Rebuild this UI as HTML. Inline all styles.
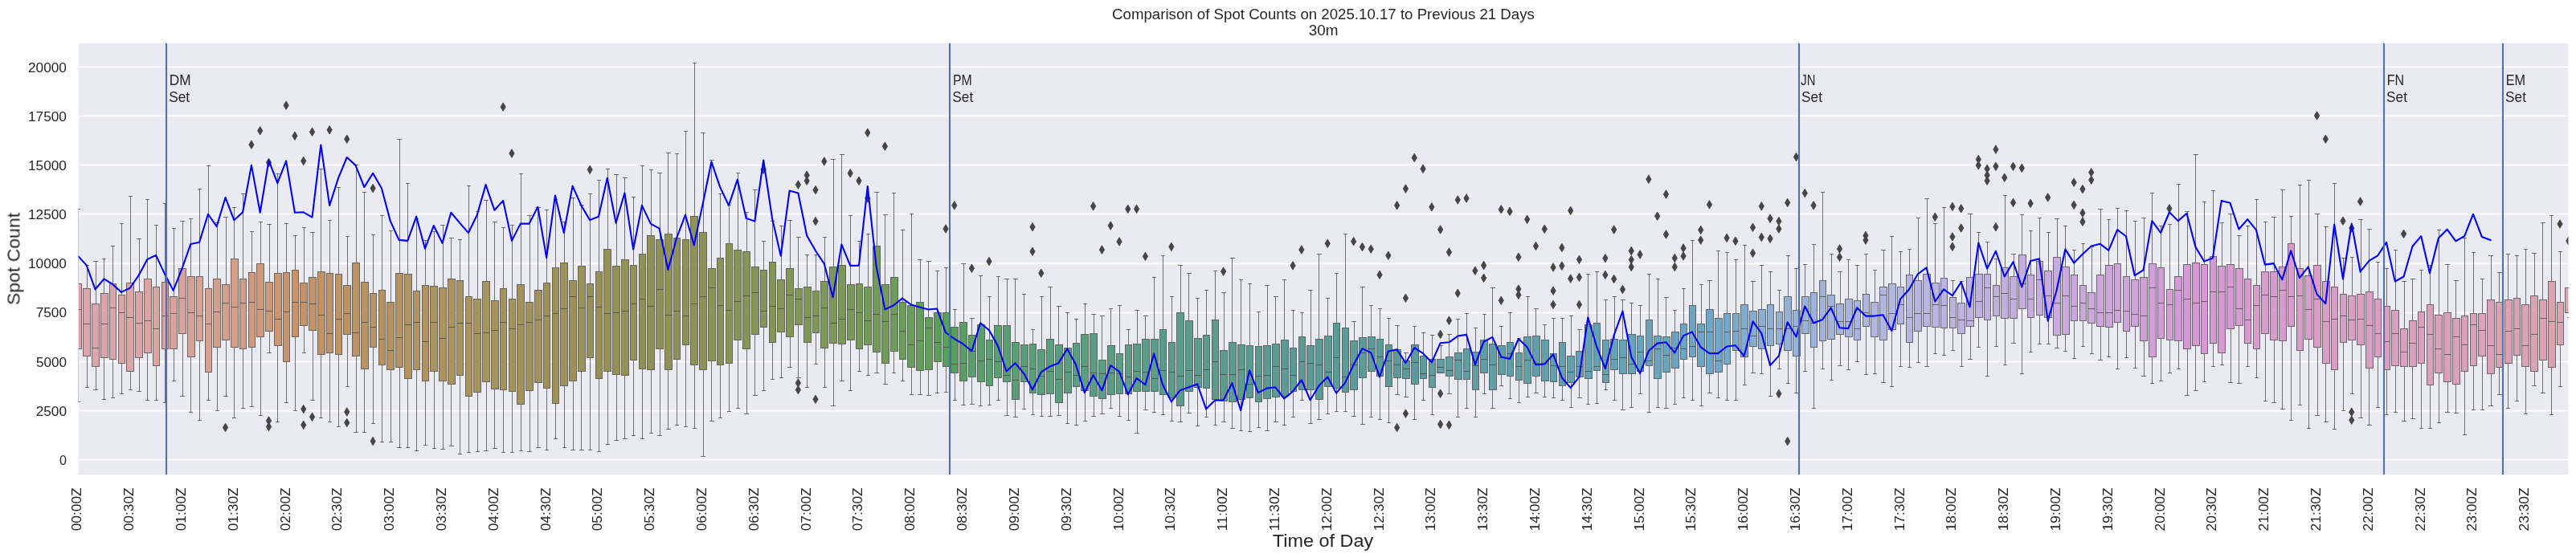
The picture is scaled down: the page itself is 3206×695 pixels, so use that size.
<!DOCTYPE html>
<html><head><meta charset="utf-8"><title>Comparison of Spot Counts</title>
<style>html,body{margin:0;padding:0;background:#fff}body{width:3206px;height:695px;overflow:hidden}svg{display:block}text{font-family:"Liberation Sans",sans-serif;fill:#262626}</style>
</head><body>
<svg width="3206" height="695" viewBox="0 0 3206 695">
<defs><clipPath id="ax"><rect x="97.7" y="53.8" width="3098.7" height="537.4"/></clipPath></defs>
<rect x="0" y="0" width="3206" height="695" fill="#ffffff"/>
<rect x="97.7" y="53.8" width="3098.7" height="537.4" fill="#eaeaf2"/>
<g stroke="#ffffff" stroke-width="1.39">
<line x1="97.7" x2="3196.4" y1="572.5" y2="572.5"/>
<line x1="97.7" x2="3196.4" y1="511.5" y2="511.5"/>
<line x1="97.7" x2="3196.4" y1="450.5" y2="450.5"/>
<line x1="97.7" x2="3196.4" y1="389.5" y2="389.5"/>
<line x1="97.7" x2="3196.4" y1="328.5" y2="328.5"/>
<line x1="97.7" x2="3196.4" y1="266.5" y2="266.5"/>
<line x1="97.7" x2="3196.4" y1="205.5" y2="205.5"/>
<line x1="97.7" x2="3196.4" y1="144.5" y2="144.5"/>
<line x1="97.7" x2="3196.4" y1="83.5" y2="83.5"/>
</g>
<g clip-path="url(#ax)">
<g stroke="#454545" stroke-opacity="0.75" stroke-width="1">
<rect x="93.5" y="353.5" width="8" height="81" fill="#dca4ad"/>
<rect x="103.5" y="359.5" width="9" height="84" fill="#dca4ac"/>
<rect x="114.5" y="378.5" width="9" height="78" fill="#dca4ab"/>
<rect x="125.5" y="365.5" width="9" height="80" fill="#dca4aa"/>
<rect x="136.5" y="353.5" width="8" height="94" fill="#dca5a8"/>
<rect x="147.5" y="367.5" width="8" height="85" fill="#dca5a7"/>
<rect x="157.5" y="352.5" width="9" height="110" fill="#dca5a6"/>
<rect x="168.5" y="363.5" width="9" height="82" fill="#dca5a5"/>
<rect x="179.5" y="347.5" width="9" height="92" fill="#dba4a3"/>
<rect x="190.5" y="357.5" width="8" height="98" fill="#dba4a1"/>
<rect x="201.5" y="351.5" width="8" height="83" fill="#daa39f"/>
<rect x="211.5" y="369.5" width="9" height="65" fill="#d9a39c"/>
<rect x="222.5" y="334.5" width="9" height="81" fill="#d9a29a"/>
<rect x="233.5" y="344.5" width="9" height="100" fill="#d8a197"/>
<rect x="244.5" y="344.5" width="8" height="80" fill="#d7a195"/>
<rect x="255.5" y="359.5" width="8" height="104" fill="#d6a092"/>
<rect x="265.5" y="347.5" width="9" height="85" fill="#d59f8f"/>
<rect x="276.5" y="354.5" width="9" height="69" fill="#d49e8c"/>
<rect x="287.5" y="322.5" width="9" height="110" fill="#d39d88"/>
<rect x="298.5" y="347.5" width="8" height="87" fill="#d29c85"/>
<rect x="309.5" y="339.5" width="8" height="93" fill="#d09b81"/>
<rect x="319.5" y="328.5" width="9" height="91" fill="#cf997c"/>
<rect x="330.5" y="351.5" width="9" height="61" fill="#cd9877"/>
<rect x="341.5" y="340.5" width="9" height="90" fill="#cb9671"/>
<rect x="352.5" y="339.5" width="8" height="111" fill="#c9946a"/>
<rect x="363.5" y="336.5" width="8" height="83" fill="#c79367"/>
<rect x="373.5" y="352.5" width="9" height="53" fill="#c59366"/>
<rect x="384.5" y="345.5" width="9" height="66" fill="#c39366"/>
<rect x="395.5" y="338.5" width="9" height="103" fill="#c19365"/>
<rect x="406.5" y="340.5" width="8" height="99" fill="#c09364"/>
<rect x="417.5" y="341.5" width="8" height="100" fill="#be9364"/>
<rect x="427.5" y="355.5" width="9" height="61" fill="#bd9363"/>
<rect x="438.5" y="327.5" width="9" height="116" fill="#bb9463"/>
<rect x="449.5" y="351.5" width="9" height="108" fill="#b99462"/>
<rect x="460.5" y="365.5" width="8" height="67" fill="#b89462"/>
<rect x="471.5" y="361.5" width="8" height="93" fill="#b79361"/>
<rect x="481.5" y="376.5" width="9" height="84" fill="#b59361"/>
<rect x="492.5" y="340.5" width="9" height="117" fill="#b49360"/>
<rect x="503.5" y="341.5" width="9" height="130" fill="#b29360"/>
<rect x="514.5" y="362.5" width="8" height="98" fill="#b1935f"/>
<rect x="525.5" y="355.5" width="8" height="119" fill="#b0935f"/>
<rect x="535.5" y="356.5" width="9" height="106" fill="#af935f"/>
<rect x="546.5" y="358.5" width="9" height="116" fill="#ad935e"/>
<rect x="557.5" y="347.5" width="9" height="131" fill="#ac935e"/>
<rect x="568.5" y="349.5" width="8" height="118" fill="#ab935d"/>
<rect x="579.5" y="369.5" width="8" height="124" fill="#aa935d"/>
<rect x="589.5" y="372.5" width="9" height="116" fill="#a8935c"/>
<rect x="600.5" y="350.5" width="9" height="125" fill="#a7935c"/>
<rect x="611.5" y="374.5" width="9" height="110" fill="#a6935c"/>
<rect x="622.5" y="359.5" width="8" height="126" fill="#a5935b"/>
<rect x="633.5" y="372.5" width="8" height="115" fill="#a4935b"/>
<rect x="643.5" y="354.5" width="9" height="149" fill="#a2925a"/>
<rect x="654.5" y="376.5" width="9" height="110" fill="#a1925a"/>
<rect x="665.5" y="361.5" width="9" height="115" fill="#a0925a"/>
<rect x="676.5" y="352.5" width="8" height="131" fill="#9f9259"/>
<rect x="687.5" y="333.5" width="8" height="169" fill="#9e9259"/>
<rect x="697.5" y="327.5" width="9" height="153" fill="#9d9258"/>
<rect x="708.5" y="349.5" width="9" height="125" fill="#9b9258"/>
<rect x="719.5" y="331.5" width="9" height="131" fill="#9a9258"/>
<rect x="730.5" y="353.5" width="8" height="92" fill="#999157"/>
<rect x="741.5" y="338.5" width="8" height="133" fill="#989157"/>
<rect x="751.5" y="310.5" width="9" height="152" fill="#979156"/>
<rect x="762.5" y="331.5" width="9" height="135" fill="#959156"/>
<rect x="773.5" y="323.5" width="9" height="144" fill="#949156"/>
<rect x="784.5" y="330.5" width="8" height="118" fill="#939155"/>
<rect x="795.5" y="316.5" width="8" height="143" fill="#929155"/>
<rect x="805.5" y="293.5" width="9" height="167" fill="#909054"/>
<rect x="816.5" y="298.5" width="9" height="136" fill="#909154"/>
<rect x="827.5" y="291.5" width="9" height="169" fill="#8f9155"/>
<rect x="838.5" y="296.5" width="8" height="151" fill="#8e9255"/>
<rect x="849.5" y="298.5" width="8" height="131" fill="#8d9255"/>
<rect x="859.5" y="269.5" width="9" height="185" fill="#8d9255"/>
<rect x="870.5" y="289.5" width="9" height="171" fill="#8c9355"/>
<rect x="881.5" y="334.5" width="9" height="115" fill="#8b9355"/>
<rect x="892.5" y="321.5" width="8" height="133" fill="#8a9355"/>
<rect x="903.5" y="303.5" width="8" height="149" fill="#899455"/>
<rect x="913.5" y="311.5" width="9" height="112" fill="#889456"/>
<rect x="924.5" y="313.5" width="9" height="121" fill="#879556"/>
<rect x="935.5" y="332.5" width="9" height="84" fill="#869556"/>
<rect x="946.5" y="336.5" width="8" height="71" fill="#859556"/>
<rect x="957.5" y="326.5" width="8" height="100" fill="#849656"/>
<rect x="967.5" y="348.5" width="9" height="65" fill="#839656"/>
<rect x="978.5" y="334.5" width="9" height="85" fill="#829756"/>
<rect x="989.5" y="359.5" width="9" height="45" fill="#819756"/>
<rect x="1000.5" y="357.5" width="9" height="69" fill="#809757"/>
<rect x="1011.5" y="362.5" width="8" height="52" fill="#7f9857"/>
<rect x="1021.5" y="350.5" width="9" height="83" fill="#7d9857"/>
<rect x="1032.5" y="332.5" width="9" height="95" fill="#7c9957"/>
<rect x="1043.5" y="330.5" width="9" height="98" fill="#7a9957"/>
<rect x="1054.5" y="354.5" width="9" height="69" fill="#799a57"/>
<rect x="1065.5" y="353.5" width="8" height="81" fill="#779a57"/>
<rect x="1075.5" y="357.5" width="9" height="72" fill="#759b58"/>
<rect x="1086.5" y="306.5" width="9" height="132" fill="#739b58"/>
<rect x="1097.5" y="354.5" width="9" height="98" fill="#719c58"/>
<rect x="1108.5" y="345.5" width="9" height="92" fill="#6f9c58"/>
<rect x="1119.5" y="376.5" width="8" height="71" fill="#6c9d58"/>
<rect x="1129.5" y="380.5" width="9" height="77" fill="#699d58"/>
<rect x="1140.5" y="376.5" width="9" height="85" fill="#659e59"/>
<rect x="1151.5" y="395.5" width="9" height="65" fill="#619e59"/>
<rect x="1162.5" y="389.5" width="9" height="61" fill="#5c9f59"/>
<rect x="1173.5" y="389.5" width="8" height="67" fill="#599f5c"/>
<rect x="1183.5" y="407.5" width="9" height="57" fill="#599f61"/>
<rect x="1194.5" y="401.5" width="9" height="73" fill="#599f65"/>
<rect x="1205.5" y="417.5" width="9" height="52" fill="#599f69"/>
<rect x="1216.5" y="404.5" width="9" height="71" fill="#599f6c"/>
<rect x="1227.5" y="423.5" width="8" height="57" fill="#599e6f"/>
<rect x="1237.5" y="405.5" width="9" height="65" fill="#5a9e71"/>
<rect x="1248.5" y="405.5" width="9" height="70" fill="#5a9e73"/>
<rect x="1259.5" y="426.5" width="9" height="71" fill="#5a9e75"/>
<rect x="1270.5" y="429.5" width="9" height="46" fill="#5a9e77"/>
<rect x="1281.5" y="428.5" width="8" height="61" fill="#5a9e79"/>
<rect x="1291.5" y="435.5" width="9" height="56" fill="#5a9e7b"/>
<rect x="1302.5" y="422.5" width="9" height="68" fill="#5a9e7c"/>
<rect x="1313.5" y="429.5" width="9" height="72" fill="#5a9d7d"/>
<rect x="1324.5" y="433.5" width="9" height="56" fill="#5a9d7f"/>
<rect x="1335.5" y="427.5" width="8" height="54" fill="#5a9d80"/>
<rect x="1345.5" y="416.5" width="9" height="70" fill="#5a9d81"/>
<rect x="1356.5" y="415.5" width="9" height="78" fill="#5a9d82"/>
<rect x="1367.5" y="448.5" width="9" height="48" fill="#5a9d83"/>
<rect x="1378.5" y="430.5" width="9" height="61" fill="#5a9d84"/>
<rect x="1389.5" y="440.5" width="8" height="50" fill="#5a9d85"/>
<rect x="1400.5" y="429.5" width="8" height="61" fill="#5a9d86"/>
<rect x="1410.5" y="428.5" width="9" height="59" fill="#5a9d87"/>
<rect x="1421.5" y="422.5" width="9" height="65" fill="#5a9d88"/>
<rect x="1432.5" y="422.5" width="9" height="65" fill="#5a9d89"/>
<rect x="1443.5" y="410.5" width="8" height="81" fill="#5a9c8a"/>
<rect x="1454.5" y="426.5" width="8" height="69" fill="#5a9c8b"/>
<rect x="1464.5" y="389.5" width="9" height="116" fill="#5a9c8b"/>
<rect x="1475.5" y="399.5" width="9" height="88" fill="#5b9c8c"/>
<rect x="1486.5" y="421.5" width="9" height="61" fill="#5b9c8d"/>
<rect x="1497.5" y="417.5" width="8" height="66" fill="#5b9c8e"/>
<rect x="1508.5" y="398.5" width="8" height="99" fill="#5b9c8e"/>
<rect x="1518.5" y="436.5" width="9" height="63" fill="#5b9c8f"/>
<rect x="1529.5" y="426.5" width="9" height="74" fill="#5b9c90"/>
<rect x="1540.5" y="429.5" width="9" height="68" fill="#5b9c90"/>
<rect x="1551.5" y="430.5" width="8" height="65" fill="#5b9c91"/>
<rect x="1562.5" y="431.5" width="8" height="69" fill="#5b9c92"/>
<rect x="1572.5" y="430.5" width="9" height="66" fill="#5b9c92"/>
<rect x="1583.5" y="428.5" width="9" height="66" fill="#5b9c93"/>
<rect x="1594.5" y="423.5" width="9" height="70" fill="#5b9b94"/>
<rect x="1605.5" y="433.5" width="8" height="54" fill="#5b9b94"/>
<rect x="1616.5" y="419.5" width="8" height="66" fill="#5b9b95"/>
<rect x="1626.5" y="430.5" width="9" height="55" fill="#5b9b95"/>
<rect x="1637.5" y="422.5" width="9" height="75" fill="#5b9b96"/>
<rect x="1648.5" y="418.5" width="9" height="63" fill="#5b9b96"/>
<rect x="1659.5" y="402.5" width="8" height="81" fill="#5b9b97"/>
<rect x="1670.5" y="408.5" width="8" height="80" fill="#5b9b98"/>
<rect x="1680.5" y="424.5" width="9" height="61" fill="#5b9b98"/>
<rect x="1691.5" y="420.5" width="9" height="50" fill="#5b9b99"/>
<rect x="1702.5" y="419.5" width="9" height="43" fill="#5b9b99"/>
<rect x="1713.5" y="422.5" width="8" height="46" fill="#5b9b9a"/>
<rect x="1724.5" y="429.5" width="8" height="52" fill="#5b9b9a"/>
<rect x="1734.5" y="435.5" width="9" height="35" fill="#5b9b9b"/>
<rect x="1745.5" y="449.5" width="9" height="22" fill="#5c9b9c"/>
<rect x="1756.5" y="429.5" width="9" height="49" fill="#5c9b9d"/>
<rect x="1767.5" y="443.5" width="8" height="28" fill="#5c9c9e"/>
<rect x="1778.5" y="447.5" width="8" height="35" fill="#5d9c9f"/>
<rect x="1788.5" y="447.5" width="9" height="17" fill="#5d9ca0"/>
<rect x="1799.5" y="444.5" width="9" height="24" fill="#5e9ca1"/>
<rect x="1810.5" y="439.5" width="9" height="33" fill="#5e9da2"/>
<rect x="1821.5" y="434.5" width="8" height="38" fill="#5e9da2"/>
<rect x="1832.5" y="438.5" width="8" height="47" fill="#5f9da3"/>
<rect x="1842.5" y="423.5" width="9" height="41" fill="#5f9da4"/>
<rect x="1853.5" y="428.5" width="9" height="57" fill="#5f9ea5"/>
<rect x="1864.5" y="430.5" width="9" height="36" fill="#609ea6"/>
<rect x="1875.5" y="426.5" width="8" height="42" fill="#609ea7"/>
<rect x="1886.5" y="439.5" width="8" height="34" fill="#619ea8"/>
<rect x="1896.5" y="419.5" width="9" height="58" fill="#619fa9"/>
<rect x="1907.5" y="418.5" width="9" height="50" fill="#619faa"/>
<rect x="1918.5" y="423.5" width="9" height="51" fill="#629fab"/>
<rect x="1929.5" y="440.5" width="8" height="35" fill="#629fac"/>
<rect x="1940.5" y="426.5" width="8" height="54" fill="#63a0ad"/>
<rect x="1950.5" y="443.5" width="9" height="33" fill="#63a0af"/>
<rect x="1961.5" y="437.5" width="9" height="32" fill="#64a0b0"/>
<rect x="1972.5" y="404.5" width="9" height="67" fill="#64a1b1"/>
<rect x="1983.5" y="402.5" width="8" height="59" fill="#65a1b2"/>
<rect x="1994.5" y="423.5" width="8" height="53" fill="#65a1b3"/>
<rect x="2004.5" y="422.5" width="9" height="38" fill="#66a2b5"/>
<rect x="2015.5" y="423.5" width="9" height="42" fill="#66a2b6"/>
<rect x="2026.5" y="416.5" width="9" height="49" fill="#67a2b7"/>
<rect x="2037.5" y="418.5" width="8" height="44" fill="#67a3b9"/>
<rect x="2048.5" y="398.5" width="8" height="57" fill="#68a3ba"/>
<rect x="2058.5" y="418.5" width="9" height="53" fill="#68a4bc"/>
<rect x="2069.5" y="419.5" width="9" height="44" fill="#69a4bd"/>
<rect x="2080.5" y="413.5" width="9" height="45" fill="#6aa4bf"/>
<rect x="2091.5" y="403.5" width="8" height="44" fill="#6ba5c1"/>
<rect x="2102.5" y="380.5" width="8" height="64" fill="#6ba5c3"/>
<rect x="2112.5" y="403.5" width="9" height="53" fill="#6ca6c5"/>
<rect x="2123.5" y="385.5" width="9" height="80" fill="#6da6c7"/>
<rect x="2134.5" y="396.5" width="9" height="67" fill="#6ea7c9"/>
<rect x="2145.5" y="390.5" width="8" height="63" fill="#75a9cb"/>
<rect x="2156.5" y="390.5" width="8" height="46" fill="#7baacd"/>
<rect x="2166.5" y="379.5" width="9" height="65" fill="#80accf"/>
<rect x="2177.5" y="387.5" width="9" height="44" fill="#85add0"/>
<rect x="2188.5" y="385.5" width="9" height="49" fill="#89aed2"/>
<rect x="2199.5" y="379.5" width="8" height="51" fill="#8dafd3"/>
<rect x="2210.5" y="388.5" width="8" height="40" fill="#91b0d4"/>
<rect x="2220.5" y="369.5" width="9" height="67" fill="#94b0d5"/>
<rect x="2231.5" y="386.5" width="9" height="57" fill="#98b1d7"/>
<rect x="2242.5" y="369.5" width="9" height="46" fill="#9bb2d8"/>
<rect x="2253.5" y="364.5" width="8" height="68" fill="#9eb2d9"/>
<rect x="2264.5" y="349.5" width="8" height="75" fill="#a0b3d9"/>
<rect x="2274.5" y="367.5" width="9" height="55" fill="#a3b3da"/>
<rect x="2285.5" y="378.5" width="9" height="38" fill="#a6b4db"/>
<rect x="2296.5" y="372.5" width="9" height="47" fill="#a8b4dc"/>
<rect x="2307.5" y="374.5" width="8" height="49" fill="#aab5dd"/>
<rect x="2318.5" y="366.5" width="8" height="40" fill="#adb5de"/>
<rect x="2328.5" y="376.5" width="9" height="43" fill="#afb5de"/>
<rect x="2339.5" y="357.5" width="9" height="66" fill="#b1b6df"/>
<rect x="2350.5" y="353.5" width="9" height="57" fill="#b3b6e0"/>
<rect x="2361.5" y="357.5" width="8" height="46" fill="#b5b6e0"/>
<rect x="2372.5" y="342.5" width="8" height="84" fill="#b7b6e1"/>
<rect x="2382.5" y="349.5" width="9" height="63" fill="#b8b5e0"/>
<rect x="2393.5" y="341.5" width="9" height="65" fill="#b9b5e0"/>
<rect x="2404.5" y="352.5" width="9" height="55" fill="#bab4e0"/>
<rect x="2415.5" y="346.5" width="8" height="62" fill="#bbb3e0"/>
<rect x="2426.5" y="370.5" width="8" height="38" fill="#bcb3e0"/>
<rect x="2436.5" y="377.5" width="9" height="38" fill="#bdb2df"/>
<rect x="2447.5" y="345.5" width="9" height="61" fill="#beb2df"/>
<rect x="2458.5" y="341.5" width="9" height="54" fill="#bfb1df"/>
<rect x="2469.5" y="341.5" width="8" height="57" fill="#c0b0df"/>
<rect x="2480.5" y="355.5" width="8" height="38" fill="#c1afde"/>
<rect x="2490.5" y="333.5" width="9" height="63" fill="#c2afde"/>
<rect x="2501.5" y="344.5" width="9" height="52" fill="#c3aede"/>
<rect x="2512.5" y="317.5" width="9" height="67" fill="#c4adde"/>
<rect x="2523.5" y="342.5" width="8" height="53" fill="#c5addd"/>
<rect x="2534.5" y="325.5" width="8" height="67" fill="#c6acdd"/>
<rect x="2544.5" y="337.5" width="9" height="58" fill="#c7abdd"/>
<rect x="2555.5" y="320.5" width="9" height="97" fill="#c8aadd"/>
<rect x="2566.5" y="332.5" width="9" height="84" fill="#c9a9dc"/>
<rect x="2577.5" y="342.5" width="8" height="57" fill="#caa8dc"/>
<rect x="2588.5" y="355.5" width="8" height="44" fill="#cba8dc"/>
<rect x="2598.5" y="364.5" width="9" height="38" fill="#cca7db"/>
<rect x="2609.5" y="342.5" width="9" height="64" fill="#cca6db"/>
<rect x="2620.5" y="330.5" width="9" height="77" fill="#cda5db"/>
<rect x="2631.5" y="328.5" width="8" height="73" fill="#cea4da"/>
<rect x="2642.5" y="344.5" width="8" height="68" fill="#cfa3da"/>
<rect x="2652.5" y="348.5" width="9" height="58" fill="#d0a1da"/>
<rect x="2663.5" y="345.5" width="9" height="79" fill="#d1a0d9"/>
<rect x="2674.5" y="328.5" width="9" height="116" fill="#d29fd9"/>
<rect x="2685.5" y="333.5" width="8" height="88" fill="#d39ed8"/>
<rect x="2696.5" y="360.5" width="8" height="63" fill="#d49cd8"/>
<rect x="2706.5" y="344.5" width="9" height="80" fill="#d59bd8"/>
<rect x="2717.5" y="329.5" width="9" height="105" fill="#d699d7"/>
<rect x="2728.5" y="327.5" width="9" height="103" fill="#d698d6"/>
<rect x="2739.5" y="329.5" width="8" height="111" fill="#d798d5"/>
<rect x="2750.5" y="319.5" width="8" height="108" fill="#d799d4"/>
<rect x="2760.5" y="331.5" width="9" height="108" fill="#d799d3"/>
<rect x="2771.5" y="329.5" width="9" height="80" fill="#d79ad2"/>
<rect x="2782.5" y="334.5" width="9" height="71" fill="#d79ad1"/>
<rect x="2793.5" y="347.5" width="8" height="80" fill="#d89bd0"/>
<rect x="2804.5" y="355.5" width="8" height="79" fill="#d89bce"/>
<rect x="2814.5" y="338.5" width="9" height="77" fill="#d89bcd"/>
<rect x="2825.5" y="338.5" width="9" height="85" fill="#d89ccc"/>
<rect x="2836.5" y="332.5" width="9" height="92" fill="#d89ccb"/>
<rect x="2847.5" y="303.5" width="8" height="103" fill="#d89ccb"/>
<rect x="2858.5" y="334.5" width="8" height="102" fill="#d99dca"/>
<rect x="2868.5" y="343.5" width="9" height="79" fill="#d99dc9"/>
<rect x="2879.5" y="330.5" width="9" height="102" fill="#d99dc8"/>
<rect x="2890.5" y="350.5" width="9" height="102" fill="#d99dc7"/>
<rect x="2901.5" y="357.5" width="8" height="103" fill="#d99ec6"/>
<rect x="2912.5" y="366.5" width="8" height="60" fill="#d99ec5"/>
<rect x="2922.5" y="368.5" width="9" height="55" fill="#d99ec4"/>
<rect x="2933.5" y="366.5" width="9" height="63" fill="#d99fc3"/>
<rect x="2944.5" y="363.5" width="9" height="95" fill="#d99fc2"/>
<rect x="2955.5" y="372.5" width="8" height="72" fill="#da9fc2"/>
<rect x="2966.5" y="381.5" width="8" height="79" fill="#da9fc1"/>
<rect x="2976.5" y="386.5" width="9" height="69" fill="#da9fc0"/>
<rect x="2987.5" y="409.5" width="9" height="47" fill="#daa0bf"/>
<rect x="2998.5" y="399.5" width="9" height="57" fill="#daa0be"/>
<rect x="3009.5" y="388.5" width="8" height="64" fill="#daa0bd"/>
<rect x="3020.5" y="379.5" width="8" height="100" fill="#daa0bd"/>
<rect x="3030.5" y="392.5" width="9" height="72" fill="#daa1bc"/>
<rect x="3041.5" y="389.5" width="9" height="86" fill="#daa1bb"/>
<rect x="3052.5" y="396.5" width="9" height="82" fill="#daa1ba"/>
<rect x="3063.5" y="393.5" width="8" height="69" fill="#daa1b9"/>
<rect x="3074.5" y="390.5" width="8" height="65" fill="#dba1b8"/>
<rect x="3084.5" y="390.5" width="9" height="53" fill="#dba2b8"/>
<rect x="3095.5" y="373.5" width="9" height="92" fill="#dba2b7"/>
<rect x="3106.5" y="376.5" width="9" height="81" fill="#dba2b6"/>
<rect x="3117.5" y="373.5" width="9" height="79" fill="#dba2b5"/>
<rect x="3128.5" y="371.5" width="8" height="71" fill="#dba2b4"/>
<rect x="3138.5" y="379.5" width="9" height="77" fill="#dba3b3"/>
<rect x="3149.5" y="368.5" width="9" height="94" fill="#dba3b2"/>
<rect x="3160.5" y="373.5" width="9" height="75" fill="#dba3b1"/>
<rect x="3171.5" y="350.5" width="9" height="107" fill="#dba3b0"/>
<rect x="3182.5" y="376.5" width="8" height="53" fill="#dba3af"/>
<rect x="3192.5" y="358.5" width="9" height="31" fill="#dca4ae"/>
</g>
<path d="M97.5 435V501M97.5 353V260M95 500.5H100M95 260.5H100M94 385.5H101M108.5 444V483M108.5 359V330M106 482.5H111M106 330.5H111M104 403.5H112M119.5 457V486M119.5 378V325M116 485.5H122M116 325.5H122M115 433.5H123M129.5 446V498M129.5 365V322M127 497.5H132M127 322.5H132M126 403.5H134M140.5 448V496M140.5 353V306M138 495.5H143M138 306.5H143M137 383.5H144M151.5 453V491M151.5 367V278M149 490.5H154M149 278.5H154M148 389.5H155M162.5 463V486M162.5 352V244M160 485.5H165M160 244.5H165M158 395.5H166M173.5 446V488M173.5 363V297M170 487.5H176M170 297.5H176M169 402.5H177M183.5 440V499M183.5 347V248M181 498.5H186M181 248.5H186M180 399.5H188M194.5 456V499M194.5 357V280M192 498.5H197M192 280.5H197M191 409.5H198M205.5 435V502M205.5 351V253M203 501.5H208M203 253.5H208M202 393.5H209M216.5 435V475M216.5 369V284M214 474.5H219M214 284.5H219M212 390.5H220M227.5 416V494M227.5 334V275M224 493.5H230M224 275.5H230M223 371.5H231M237.5 445V514M237.5 344V272M235 513.5H240M235 272.5H240M234 389.5H242M248.5 425V524M248.5 344V235M246 523.5H251M246 235.5H251M245 393.5H252M259.5 464V499M259.5 359V206M257 498.5H262M257 206.5H262M256 403.5H263M270.5 433V512M270.5 347V277M268 511.5H273M268 277.5H273M266 388.5H274M281.5 424V494M281.5 354V270M278 493.5H284M278 270.5H284M277 377.5H285M291.5 433V521M291.5 322V258M289 520.5H294M289 258.5H294M288 382.5H296M302.5 435V509M302.5 347V241M300 508.5H305M300 241.5H305M299 377.5H306M313.5 433V507M313.5 339V288M311 506.5H316M311 288.5H316M310 376.5H317M324.5 420V518M324.5 328V276M322 517.5H327M322 276.5H327M320 385.5H328M335.5 413V440M335.5 351V279M332 439.5H338M332 279.5H338M331 387.5H339M345.5 431V526M345.5 340V216M343 525.5H348M343 216.5H348M342 397.5H350M356.5 451V502M356.5 339V278M354 501.5H359M354 278.5H359M353 388.5H360M367.5 420V512M367.5 336V293M365 511.5H370M365 293.5H370M364 376.5H371M378.5 406V440M378.5 352V283M376 439.5H381M376 283.5H381M374 376.5H382M389.5 412V499M389.5 345V289M386 498.5H392M386 289.5H392M385 378.5H393M399.5 442V521M399.5 338V210M397 520.5H402M397 210.5H402M396 392.5H404M410.5 440V526M410.5 340V274M408 525.5H413M408 274.5H413M407 415.5H414M421.5 442V532M421.5 341V233M419 531.5H424M419 233.5H424M418 397.5H425M432.5 417V482M432.5 355V294M430 481.5H435M430 294.5H435M428 390.5H436M443.5 444V539M443.5 327V205M440 538.5H446M440 205.5H446M439 414.5H447M453.5 460V539M453.5 351V239M451 538.5H456M451 239.5H456M450 401.5H458M464.5 433V528M464.5 365V292M462 527.5H467M462 292.5H467M461 407.5H468M475.5 455V551M475.5 361V268M473 550.5H478M473 268.5H478M472 422.5H479M486.5 461V551M486.5 376V287M484 550.5H489M484 287.5H489M482 436.5H490M497.5 458V558M497.5 340V173M494 557.5H500M494 173.5H500M493 420.5H501M507.5 472V558M507.5 341V228M505 557.5H510M505 228.5H510M504 404.5H512M518.5 461V562M518.5 362V272M516 561.5H521M516 272.5H521M515 401.5H522M529.5 475V555M529.5 355V299M527 554.5H532M527 299.5H532M526 425.5H533M540.5 463V559M540.5 356V288M538 558.5H543M538 288.5H543M536 401.5H544M551.5 475V560M551.5 358V280M548 559.5H554M548 280.5H554M547 421.5H555M561.5 479V556M561.5 347V296M559 555.5H565M559 296.5H565M558 407.5H566M572.5 468V566M572.5 349V298M570 565.5H575M570 298.5H575M569 402.5H576M583.5 494V564M583.5 369V231M581 563.5H586M581 231.5H586M580 402.5H587M594.5 489V563M594.5 372V263M592 562.5H597M592 263.5H597M590 415.5H598M605.5 476V562M605.5 350V249M602 561.5H608M602 249.5H608M601 414.5H609M615.5 485V559M615.5 374V276M613 558.5H619M613 276.5H619M612 411.5H620M626.5 486V564M626.5 359V283M624 563.5H629M624 283.5H629M623 401.5H630M637.5 488V564M637.5 372V280M635 563.5H640M635 280.5H640M634 409.5H641M648.5 504V562M648.5 354V216M646 561.5H651M646 216.5H651M644 404.5H652M659.5 487V563M659.5 376V268M656 562.5H662M656 268.5H662M655 401.5H663M669.5 477V558M669.5 361V258M667 557.5H673M667 258.5H673M666 398.5H674M680.5 484V561M680.5 352V261M678 560.5H683M678 261.5H683M677 393.5H684M691.5 503V547M691.5 333V248M689 546.5H694M689 248.5H694M688 390.5H695M702.5 481V558M702.5 327V276M700 557.5H705M700 276.5H705M698 384.5H706M713.5 475V561M713.5 349V246M710 560.5H716M710 246.5H716M709 369.5H717M723.5 463V561M723.5 331V255M721 560.5H727M721 255.5H727M720 383.5H728M734.5 446V561M734.5 353V241M732 560.5H737M732 241.5H737M731 369.5H738M745.5 472V563M745.5 338V224M743 562.5H748M743 224.5H748M742 382.5H749M756.5 463V554M756.5 310V210M754 553.5H759M754 210.5H759M752 390.5H760M767.5 467V549M767.5 331V217M764 548.5H770M764 217.5H770M763 389.5H771M777.5 468V547M777.5 323V221M775 546.5H781M775 221.5H781M774 387.5H782M788.5 449V543M788.5 330V245M786 542.5H791M786 245.5H791M785 378.5H792M799.5 460V547M799.5 316V206M797 546.5H802M797 206.5H802M796 372.5H803M810.5 461V540M810.5 293V211M808 539.5H813M808 211.5H813M806 381.5H814M821.5 435V543M821.5 298V215M818 542.5H824M818 215.5H824M817 360.5H825M831.5 461V535M831.5 291V190M829 534.5H835M829 190.5H835M828 392.5H836M842.5 448V530M842.5 296V191M840 529.5H845M840 191.5H845M839 387.5H846M853.5 430V532M853.5 298V163M851 531.5H856M851 163.5H856M850 393.5H857M864.5 455V534M864.5 269V78M862 533.5H867M862 78.5H867M860 378.5H868M875.5 461V569M875.5 289V165M872 568.5H878M872 165.5H878M871 369.5H879M885.5 450V525M885.5 334V199M883 524.5H889M883 199.5H889M882 358.5H890M896.5 455V521M896.5 321V241M894 520.5H899M894 241.5H899M893 380.5H900M907.5 453V513M907.5 303V255M905 512.5H910M905 255.5H910M904 386.5H911M918.5 424V509M918.5 311V215M916 508.5H921M916 215.5H921M914 375.5H922M929.5 435V516M929.5 313V264M926 515.5H932M926 264.5H932M925 368.5H933M939.5 417V493M939.5 332V236M937 492.5H943M937 236.5H943M936 364.5H944M950.5 408V487M950.5 336V300M948 486.5H953M948 300.5H953M947 387.5H954M961.5 427V473M961.5 326V275M959 472.5H964M959 275.5H964M958 381.5H965M972.5 414V471M972.5 348V281M970 470.5H975M970 281.5H975M968 384.5H976M983.5 420V458M983.5 334V274M980 457.5H986M980 274.5H986M979 367.5H987M993.5 405V471M993.5 359V295M991 470.5H997M991 295.5H997M990 372.5H998M1004.5 427V483M1004.5 357V317M1002 482.5H1007M1002 317.5H1007M1001 395.5H1009M1015.5 415V454M1015.5 362V317M1013 453.5H1018M1013 317.5H1018M1012 393.5H1019M1026.5 434V483M1026.5 350V295M1024 482.5H1029M1024 295.5H1029M1022 383.5H1030M1037.5 428V506M1037.5 332V198M1034 505.5H1040M1034 198.5H1040M1033 402.5H1041M1047.5 429V475M1047.5 330V192M1045 474.5H1051M1045 192.5H1051M1044 397.5H1052M1058.5 424V487M1058.5 354V268M1056 486.5H1061M1056 268.5H1061M1055 385.5H1063M1069.5 435V463M1069.5 353V300M1067 462.5H1072M1067 300.5H1072M1066 389.5H1073M1080.5 430V468M1080.5 357V291M1078 467.5H1083M1078 291.5H1083M1076 399.5H1084M1091.5 439V465M1091.5 306V239M1088 464.5H1094M1088 239.5H1094M1087 391.5H1095M1101.5 453V479M1101.5 354V267M1099 478.5H1105M1099 267.5H1105M1098 400.5H1106M1112.5 438V465M1112.5 345V240M1110 464.5H1115M1110 240.5H1115M1109 391.5H1117M1123.5 448V475M1123.5 376V286M1121 474.5H1126M1121 286.5H1126M1120 412.5H1127M1134.5 458V492M1134.5 380V266M1132 491.5H1137M1132 266.5H1137M1130 429.5H1138M1145.5 462V492M1145.5 376V323M1142 491.5H1148M1142 323.5H1148M1141 424.5H1149M1155.5 461V493M1155.5 395V325M1153 492.5H1159M1153 325.5H1159M1152 408.5H1160M1166.5 451V490M1166.5 389V337M1164 489.5H1169M1164 337.5H1169M1163 426.5H1171M1177.5 457V489M1177.5 389V333M1175 488.5H1180M1175 333.5H1180M1174 432.5H1181M1188.5 465V499M1188.5 407V385M1186 498.5H1191M1186 385.5H1191M1184 453.5H1192M1199.5 475V505M1199.5 401V328M1196 504.5H1202M1196 328.5H1202M1195 452.5H1203M1209.5 470V504M1209.5 417V396M1207 503.5H1213M1207 396.5H1213M1206 437.5H1214M1220.5 476V506M1220.5 404V343M1218 505.5H1223M1218 343.5H1223M1217 449.5H1225M1231.5 481V505M1231.5 423V369M1229 504.5H1234M1229 369.5H1234M1228 447.5H1235M1242.5 471V499M1242.5 405V344M1240 498.5H1245M1240 344.5H1245M1238 450.5H1246M1253.5 476V518M1253.5 405V347M1250 517.5H1256M1250 347.5H1256M1249 467.5H1257M1263.5 498V520M1263.5 426V347M1261 519.5H1267M1261 347.5H1267M1260 473.5H1268M1274.5 476V510M1274.5 429V366M1272 509.5H1277M1272 366.5H1277M1271 456.5H1279M1285.5 490V517M1285.5 428V410M1283 516.5H1288M1283 410.5H1288M1282 459.5H1289M1296.5 492V519M1296.5 435V369M1294 518.5H1299M1294 369.5H1299M1292 468.5H1300M1307.5 491V519M1307.5 422V357M1304 518.5H1310M1304 357.5H1310M1303 462.5H1311M1317.5 502V518M1317.5 429V381M1315 517.5H1321M1315 381.5H1321M1314 472.5H1322M1328.5 490V528M1328.5 433V389M1326 527.5H1331M1326 389.5H1331M1325 463.5H1333M1339.5 482V530M1339.5 427V397M1337 529.5H1342M1337 397.5H1342M1336 467.5H1343M1350.5 487V525M1350.5 416V378M1348 524.5H1353M1348 378.5H1353M1346 456.5H1354M1361.5 494V519M1361.5 415V391M1358 518.5H1364M1358 391.5H1364M1357 464.5H1365M1371.5 497V516M1371.5 448V393M1369 515.5H1375M1369 393.5H1375M1368 465.5H1376M1382.5 492V509M1382.5 430V384M1380 508.5H1385M1380 384.5H1385M1379 464.5H1387M1393.5 491V519M1393.5 440V380M1391 518.5H1396M1391 380.5H1396M1390 465.5H1397M1404.5 491V524M1404.5 429V410M1402 523.5H1407M1402 410.5H1407M1401 469.5H1408M1415.5 488V540M1415.5 428V386M1412 539.5H1418M1412 386.5H1418M1411 462.5H1419M1425.5 488V511M1425.5 422V393M1423 510.5H1429M1423 393.5H1429M1422 463.5H1430M1436.5 488V514M1436.5 422V345M1434 513.5H1439M1434 345.5H1439M1433 471.5H1441M1447.5 492V517M1447.5 410V318M1445 516.5H1450M1445 318.5H1450M1444 461.5H1451M1458.5 496V525M1458.5 426V369M1456 524.5H1461M1456 369.5H1461M1455 463.5H1462M1469.5 506V526M1469.5 389V330M1466 525.5H1472M1466 330.5H1472M1465 468.5H1473M1479.5 488V515M1479.5 399V340M1477 514.5H1483M1477 340.5H1483M1476 461.5H1484M1490.5 483V531M1490.5 421V371M1488 530.5H1493M1488 371.5H1493M1487 467.5H1495M1501.5 484V520M1501.5 417V361M1499 519.5H1504M1499 361.5H1504M1498 460.5H1505M1512.5 498V530M1512.5 398V337M1510 529.5H1515M1510 337.5H1515M1509 450.5H1516M1523.5 500V526M1523.5 436V364M1520 525.5H1526M1520 364.5H1526M1519 466.5H1527M1533.5 501V534M1533.5 426V321M1531 533.5H1537M1531 321.5H1537M1530 466.5H1538M1544.5 498V537M1544.5 429V348M1542 536.5H1547M1542 348.5H1547M1541 460.5H1549M1555.5 496V538M1555.5 430V353M1553 537.5H1558M1553 353.5H1558M1552 478.5H1559M1566.5 501V533M1566.5 431V388M1564 532.5H1569M1564 388.5H1569M1563 468.5H1570M1577.5 497V537M1577.5 430V355M1574 536.5H1580M1574 355.5H1580M1573 467.5H1581M1587.5 495V526M1587.5 428V369M1585 525.5H1591M1585 369.5H1591M1584 456.5H1592M1598.5 494V530M1598.5 423V348M1596 529.5H1601M1596 348.5H1601M1595 459.5H1603M1609.5 488V520M1609.5 433V386M1607 519.5H1612M1607 386.5H1612M1606 467.5H1613M1620.5 486V499M1620.5 419V389M1618 498.5H1623M1618 389.5H1623M1617 450.5H1624M1631.5 486V528M1631.5 430V361M1628 527.5H1634M1628 361.5H1634M1627 452.5H1635M1641.5 498V523M1641.5 422V316M1639 522.5H1645M1639 316.5H1645M1638 454.5H1646M1652.5 482V516M1652.5 418V371M1650 515.5H1655M1650 371.5H1655M1649 463.5H1657M1663.5 484V513M1663.5 402V340M1661 512.5H1666M1661 340.5H1666M1660 445.5H1667M1674.5 489V513M1674.5 408V291M1672 512.5H1677M1672 291.5H1677M1671 469.5H1678M1685.5 486V519M1685.5 424V400M1682 518.5H1688M1682 400.5H1688M1681 454.5H1689M1695.5 471V529M1695.5 420V357M1693 528.5H1699M1693 357.5H1699M1692 439.5H1700M1706.5 463V520M1706.5 419V380M1704 519.5H1709M1704 380.5H1709M1703 434.5H1711M1717.5 469V523M1717.5 422V384M1715 522.5H1720M1715 384.5H1720M1714 444.5H1721M1728.5 482V527M1728.5 429V396M1726 526.5H1731M1726 396.5H1731M1725 449.5H1732M1739.5 471V492M1739.5 435V405M1736 491.5H1742M1736 405.5H1742M1735 454.5H1743M1749.5 472V495M1749.5 449V439M1747 494.5H1753M1747 439.5H1753M1746 459.5H1754M1760.5 479V523M1760.5 429V406M1758 522.5H1763M1758 406.5H1763M1757 451.5H1765M1771.5 472V499M1771.5 443V414M1769 498.5H1774M1769 414.5H1774M1768 465.5H1775M1782.5 483V517M1782.5 447V417M1780 516.5H1785M1780 417.5H1785M1779 467.5H1786M1793.5 465V465M1793.5 447V430M1790 464.5H1796M1790 430.5H1796M1789 457.5H1797M1803.5 469V491M1803.5 444V416M1801 490.5H1807M1801 416.5H1807M1800 461.5H1808M1814.5 473V520M1814.5 439V397M1812 519.5H1817M1812 397.5H1817M1811 448.5H1819M1825.5 473V509M1825.5 434V390M1823 508.5H1828M1823 390.5H1828M1822 462.5H1829M1836.5 486V520M1836.5 438V408M1834 519.5H1839M1834 408.5H1839M1833 455.5H1840M1847.5 465V491M1847.5 423V391M1845 490.5H1850M1845 391.5H1850M1843 447.5H1851M1857.5 486V509M1857.5 428V358M1855 508.5H1861M1855 358.5H1861M1854 454.5H1862M1868.5 467V481M1868.5 430V406M1866 480.5H1871M1866 406.5H1871M1865 445.5H1873M1879.5 469V497M1879.5 426V389M1877 496.5H1882M1877 389.5H1882M1876 440.5H1883M1890.5 474V502M1890.5 439V421M1888 501.5H1893M1888 421.5H1893M1887 456.5H1894M1901.5 478V495M1901.5 419V369M1899 494.5H1904M1899 369.5H1904M1897 448.5H1905M1911.5 469V490M1911.5 418V384M1909 489.5H1915M1909 384.5H1915M1908 452.5H1916M1922.5 475V495M1922.5 423V404M1920 494.5H1925M1920 404.5H1925M1919 452.5H1927M1933.5 476V496M1933.5 440V396M1931 495.5H1936M1931 396.5H1936M1930 455.5H1937M1944.5 481V499M1944.5 426V396M1942 498.5H1947M1942 396.5H1947M1941 456.5H1948M1955.5 477V508M1955.5 443V393M1953 507.5H1958M1953 393.5H1958M1951 463.5H1959M1965.5 470V496M1965.5 437V410M1963 495.5H1969M1963 410.5H1969M1962 456.5H1970M1976.5 472V504M1976.5 404V341M1974 503.5H1979M1974 341.5H1979M1973 462.5H1981M1987.5 462V503M1987.5 402V338M1985 502.5H1990M1985 338.5H1990M1984 456.5H1991M1998.5 477V486M1998.5 423V373M1996 485.5H2001M1996 373.5H2001M1995 466.5H2002M2009.5 461V499M2009.5 422V369M2007 498.5H2012M2007 369.5H2012M2005 447.5H2013M2019.5 466V511M2019.5 423V373M2017 510.5H2023M2017 373.5H2023M2016 445.5H2024M2030.5 466V508M2030.5 416V377M2028 507.5H2033M2028 377.5H2033M2027 453.5H2035M2041.5 463V491M2041.5 418V380M2039 490.5H2044M2039 380.5H2044M2038 438.5H2045M2052.5 456V514M2052.5 398V341M2050 513.5H2055M2050 341.5H2055M2049 449.5H2056M2063.5 472V508M2063.5 418V347M2061 507.5H2066M2061 347.5H2066M2059 434.5H2067M2073.5 464V509M2073.5 419V370M2071 508.5H2077M2071 370.5H2077M2070 442.5H2078M2084.5 459V504M2084.5 413V386M2082 503.5H2087M2082 386.5H2087M2081 433.5H2089M2095.5 448V496M2095.5 403V359M2093 495.5H2098M2093 359.5H2098M2092 434.5H2099M2106.5 445V499M2106.5 380V299M2104 498.5H2109M2104 299.5H2109M2103 431.5H2110M2117.5 457V506M2117.5 403V354M2115 505.5H2120M2115 354.5H2120M2113 413.5H2121M2127.5 466V490M2127.5 385V349M2125 489.5H2131M2125 349.5H2131M2124 413.5H2132M2138.5 464V496M2138.5 396V312M2136 495.5H2141M2136 312.5H2141M2135 449.5H2143M2149.5 454V499M2149.5 390V314M2147 498.5H2152M2147 314.5H2152M2146 413.5H2153M2160.5 437V499M2160.5 390V323M2158 498.5H2163M2158 323.5H2163M2157 412.5H2164M2171.5 445V480M2171.5 379V305M2169 479.5H2174M2169 305.5H2174M2167 409.5H2175M2181.5 432V465M2181.5 387V350M2179 464.5H2185M2179 350.5H2185M2178 418.5H2186M2192.5 435V466M2192.5 385V330M2190 465.5H2195M2190 330.5H2195M2189 406.5H2197M2203.5 431V494M2203.5 379V338M2201 493.5H2206M2201 338.5H2206M2200 409.5H2207M2214.5 429V460M2214.5 388V361M2212 459.5H2217M2212 361.5H2217M2211 409.5H2218M2225.5 437V478M2225.5 369V318M2223 477.5H2228M2223 318.5H2228M2221 409.5H2229M2235.5 444V490M2235.5 386V334M2233 489.5H2239M2233 334.5H2239M2232 406.5H2240M2246.5 416V463M2246.5 369V329M2244 462.5H2249M2244 329.5H2249M2243 399.5H2251M2257.5 433V509M2257.5 364V304M2255 508.5H2260M2255 304.5H2260M2254 402.5H2261M2268.5 425V460M2268.5 349V239M2266 459.5H2271M2266 239.5H2271M2265 369.5H2272M2279.5 423V474M2279.5 367V316M2277 473.5H2282M2277 316.5H2282M2275 381.5H2283M2290.5 417V456M2290.5 378V338M2287 455.5H2293M2287 338.5H2293M2286 400.5H2294M2300.5 420V461M2300.5 372V323M2298 460.5H2303M2298 323.5H2303M2297 400.5H2305M2311.5 424V451M2311.5 374V330M2309 450.5H2314M2309 330.5H2314M2308 409.5H2315M2322.5 407V467M2322.5 366V316M2320 466.5H2325M2320 316.5H2325M2319 389.5H2326M2333.5 420V466M2333.5 376V336M2331 465.5H2336M2331 336.5H2336M2329 393.5H2337M2344.5 424V477M2344.5 357V311M2341 476.5H2347M2341 311.5H2347M2340 367.5H2348M2354.5 411V482M2354.5 353V294M2352 481.5H2357M2352 294.5H2357M2351 390.5H2359M2365.5 404V457M2365.5 357V313M2363 456.5H2368M2363 313.5H2368M2362 379.5H2369M2376.5 427V458M2376.5 342V310M2374 457.5H2379M2374 310.5H2379M2373 395.5H2380M2387.5 413V452M2387.5 349V271M2385 451.5H2390M2385 271.5H2390M2383 390.5H2391M2398.5 407V457M2398.5 341V247M2395 456.5H2401M2395 247.5H2401M2394 390.5H2402M2408.5 408V441M2408.5 352V278M2406 440.5H2411M2406 278.5H2411M2405 379.5H2413M2419.5 409V443M2419.5 346V258M2417 442.5H2422M2417 258.5H2422M2416 380.5H2423M2430.5 409V437M2430.5 370V349M2428 436.5H2433M2428 349.5H2433M2427 395.5H2434M2441.5 416V457M2441.5 377V350M2439 456.5H2444M2439 350.5H2444M2437 398.5H2445M2452.5 407V448M2452.5 345V266M2449 447.5H2455M2449 266.5H2455M2448 399.5H2456M2462.5 396V433M2462.5 341V289M2460 432.5H2465M2460 289.5H2465M2459 375.5H2467M2473.5 399V469M2473.5 341V301M2471 468.5H2476M2471 301.5H2476M2470 358.5H2477M2484.5 394V432M2484.5 355V322M2482 431.5H2487M2482 322.5H2487M2481 369.5H2488M2495.5 397V455M2495.5 333V243M2493 454.5H2498M2493 243.5H2498M2491 365.5H2499M2506.5 397V428M2506.5 344V316M2503 427.5H2509M2503 316.5H2509M2502 372.5H2510M2516.5 385V466M2516.5 317V267M2514 465.5H2519M2514 267.5H2519M2513 353.5H2521M2527.5 396V439M2527.5 342V287M2525 438.5H2530M2525 287.5H2530M2524 372.5H2531M2538.5 393V429M2538.5 325V271M2536 428.5H2541M2536 271.5H2541M2535 348.5H2542M2549.5 396V429M2549.5 337V289M2547 428.5H2552M2547 289.5H2552M2545 368.5H2553M2560.5 418V434M2560.5 320V272M2557 433.5H2563M2557 272.5H2563M2556 377.5H2564M2570.5 417V438M2570.5 332V281M2568 437.5H2573M2568 281.5H2573M2567 368.5H2575M2581.5 400V447M2581.5 342V311M2579 446.5H2584M2579 311.5H2584M2578 381.5H2585M2592.5 400V432M2592.5 355V303M2590 431.5H2595M2590 303.5H2595M2589 377.5H2596M2603.5 403V441M2603.5 364V307M2601 440.5H2606M2601 307.5H2606M2599 384.5H2607M2614.5 407V449M2614.5 342V260M2611 448.5H2617M2611 260.5H2617M2610 389.5H2618M2624.5 408V445M2624.5 330V273M2622 444.5H2627M2622 273.5H2627M2621 389.5H2629M2635.5 402V460M2635.5 328V259M2633 459.5H2638M2633 259.5H2638M2632 386.5H2639M2646.5 413V446M2646.5 344V262M2644 445.5H2649M2644 262.5H2649M2643 387.5H2650M2657.5 407V459M2657.5 348V275M2655 458.5H2660M2655 275.5H2660M2653 391.5H2661M2668.5 425V469M2668.5 345V271M2665 468.5H2671M2665 271.5H2671M2664 393.5H2672M2678.5 445V478M2678.5 328V240M2676 477.5H2681M2676 240.5H2681M2675 358.5H2683M2689.5 422V475M2689.5 333V281M2687 474.5H2692M2687 281.5H2692M2686 377.5H2693M2700.5 424V465M2700.5 360V279M2698 464.5H2703M2698 279.5H2703M2697 379.5H2704M2711.5 425V460M2711.5 344V229M2709 459.5H2714M2709 229.5H2714M2707 361.5H2715M2722.5 435V493M2722.5 329V263M2719 492.5H2725M2719 263.5H2725M2718 372.5H2726M2732.5 431V487M2732.5 327V192M2730 486.5H2736M2730 192.5H2736M2729 377.5H2737M2743.5 441V476M2743.5 329V251M2741 475.5H2746M2741 251.5H2746M2740 375.5H2747M2754.5 428V457M2754.5 319V237M2752 456.5H2757M2752 237.5H2757M2751 363.5H2758M2765.5 440V455M2765.5 331V277M2763 454.5H2768M2763 277.5H2768M2761 363.5H2769M2776.5 410V477M2776.5 329V266M2773 476.5H2779M2773 266.5H2779M2772 357.5H2780M2786.5 406V478M2786.5 334V293M2784 477.5H2790M2784 293.5H2790M2783 384.5H2791M2797.5 428V457M2797.5 347V281M2795 456.5H2800M2795 281.5H2800M2794 398.5H2801M2808.5 435V471M2808.5 355V248M2806 470.5H2811M2806 248.5H2811M2805 380.5H2812M2819.5 416V500M2819.5 338V276M2817 499.5H2822M2817 276.5H2822M2815 367.5H2823M2830.5 424V502M2830.5 338V270M2827 501.5H2833M2827 270.5H2833M2826 369.5H2834M2840.5 425V510M2840.5 332V236M2838 509.5H2844M2838 236.5H2844M2837 361.5H2845M2851.5 407V524M2851.5 303V269M2849 523.5H2854M2849 269.5H2854M2848 369.5H2855M2862.5 437V505M2862.5 334V230M2860 504.5H2865M2860 230.5H2865M2859 368.5H2866M2873.5 423V534M2873.5 343V224M2871 533.5H2876M2871 224.5H2876M2869 385.5H2877M2884.5 433V518M2884.5 330V266M2881 517.5H2887M2881 266.5H2887M2880 372.5H2888M2894.5 453V526M2894.5 350V282M2892 525.5H2898M2892 282.5H2898M2891 400.5H2899M2905.5 461V535M2905.5 357V228M2903 534.5H2908M2903 228.5H2908M2902 397.5H2909M2916.5 427V512M2916.5 366V321M2914 511.5H2919M2914 321.5H2919M2913 393.5H2920M2927.5 424V491M2927.5 368V320M2925 490.5H2930M2925 320.5H2930M2923 398.5H2931M2938.5 430V521M2938.5 366V273M2935 520.5H2941M2935 273.5H2941M2934 397.5H2942M2948.5 459V530M2948.5 363V285M2946 529.5H2952M2946 285.5H2952M2945 405.5H2953M2959.5 445V508M2959.5 372V326M2957 507.5H2962M2957 326.5H2962M2956 415.5H2963M2970.5 461V517M2970.5 381V334M2968 516.5H2973M2968 334.5H2973M2967 425.5H2974M2981.5 456V514M2981.5 386V311M2979 513.5H2984M2979 311.5H2984M2977 415.5H2985M2992.5 457V525M2992.5 409V350M2989 524.5H2995M2989 350.5H2995M2988 438.5H2996M3002.5 457V522M3002.5 399V347M3000 521.5H3006M3000 347.5H3006M2999 427.5H3007M3013.5 453V534M3013.5 388V336M3011 533.5H3016M3011 336.5H3016M3010 407.5H3017M3024.5 480V534M3024.5 379V330M3022 533.5H3027M3022 330.5H3027M3021 416.5H3028M3035.5 465V527M3035.5 392V286M3033 526.5H3038M3033 286.5H3038M3031 434.5H3039M3046.5 476V514M3046.5 389V329M3043 513.5H3049M3043 329.5H3049M3042 441.5H3050M3056.5 479V515M3056.5 396V349M3054 514.5H3060M3054 349.5H3060M3053 419.5H3061M3067.5 463V542M3067.5 393V296M3065 541.5H3070M3065 296.5H3070M3064 429.5H3071M3078.5 456V511M3078.5 390V314M3076 510.5H3081M3076 314.5H3081M3075 404.5H3082M3089.5 444V511M3089.5 390V347M3087 510.5H3092M3087 347.5H3092M3085 411.5H3093M3100.5 466V506M3100.5 373V318M3097 505.5H3103M3097 318.5H3103M3096 430.5H3104M3110.5 458V492M3110.5 376V339M3108 491.5H3114M3108 339.5H3114M3107 441.5H3115M3121.5 453V509M3121.5 373V316M3119 508.5H3124M3119 316.5H3124M3118 412.5H3126M3132.5 443V500M3132.5 371V318M3130 499.5H3135M3130 318.5H3135M3129 409.5H3136M3143.5 457V516M3143.5 379V310M3141 515.5H3146M3141 310.5H3146M3139 430.5H3147M3154.5 463V481M3154.5 368V315M3151 480.5H3157M3151 315.5H3157M3150 416.5H3158M3164.5 449V490M3164.5 373V277M3162 489.5H3168M3162 277.5H3168M3161 396.5H3169M3175.5 458V517M3175.5 350V268M3173 516.5H3178M3173 268.5H3178M3172 400.5H3180M3186.5 430V482M3186.5 376V313M3184 481.5H3189M3184 313.5H3189M3183 401.5H3190M3197.5 390V396M3197.5 358V358M3195 395.5H3200M3195 358.5H3200M3193 389.5H3201" fill="none" stroke="#454545" stroke-opacity="0.75" stroke-width="1"/>
<path d="M280.52 527.26L283.67 532.51L280.52 537.76L277.37 532.51ZM312.92 174.89L316.07 180.14L312.92 185.39L309.77 180.14ZM323.72 157.59L326.87 162.84L323.72 168.09L320.57 162.84ZM334.52 197.15L337.67 202.4L334.52 207.65L331.37 202.4ZM334.52 518.86L337.67 524.11L334.52 529.36L331.37 524.11ZM334.52 526.2L337.67 531.45L334.52 536.7L331.37 531.45ZM356.12 125.96L359.27 131.21L356.12 136.46L352.97 131.21ZM366.92 164L370.07 169.25L366.92 174.5L363.77 169.25ZM377.73 195.19L380.88 200.44L377.73 205.69L374.58 200.44ZM377.73 504.26L380.88 509.51L377.73 514.76L374.58 509.51ZM377.73 524.03L380.88 529.28L377.73 534.53L374.58 529.28ZM388.53 159.08L391.68 164.33L388.53 169.58L385.38 164.33ZM388.53 514.02L391.68 519.27L388.53 524.52L385.38 519.27ZM410.13 156.61L413.28 161.86L410.13 167.11L406.98 161.86ZM431.73 167.99L434.88 173.24L431.73 178.49L428.58 173.24ZM431.73 507.78L434.88 513.03L431.73 518.28L428.58 513.03ZM431.73 521.31L434.88 526.56L431.73 531.81L428.58 526.56ZM464.13 229.32L467.28 234.57L464.13 239.82L460.98 234.57ZM464.13 544.31L467.28 549.56L464.13 554.81L460.98 549.56ZM626.15 127.91L629.3 133.16L626.15 138.41L623 133.16ZM636.95 185.8L640.1 191.05L636.95 196.3L633.8 191.05ZM734.16 206.08L737.31 211.33L734.16 216.58L731.01 211.33ZM950.18 206.08L953.33 211.33L950.18 216.58L947.03 211.33ZM993.38 224.87L996.53 230.12L993.38 235.37L990.23 230.12ZM993.38 471.65L996.53 476.9L993.38 482.15L990.23 476.9ZM993.38 480.21L996.53 485.46L993.38 490.71L990.23 485.46ZM1004.18 213L1007.33 218.25L1004.18 223.5L1001.03 218.25ZM1004.18 219.93L1007.33 225.18L1004.18 230.43L1001.03 225.18ZM1014.99 231.3L1018.13 236.55L1014.99 241.8L1011.84 236.55ZM1014.99 270.37L1018.13 275.62L1014.99 280.87L1011.84 275.62ZM1014.99 492.1L1018.13 497.35L1014.99 502.6L1011.84 497.35ZM1025.79 195.68L1028.94 200.93L1025.79 206.18L1022.64 200.93ZM1058.19 210.53L1061.34 215.78L1058.19 221.03L1055.04 215.78ZM1068.99 219.93L1072.14 225.18L1068.99 230.43L1065.84 225.18ZM1079.79 160.09L1082.94 165.34L1079.79 170.59L1076.64 165.34ZM1079.79 241.7L1082.94 246.95L1079.79 252.2L1076.64 246.95ZM1101.39 176.89L1104.54 182.14L1101.39 187.39L1098.24 182.14ZM1177 279.77L1180.15 285.02L1177 290.27L1173.85 285.02ZM1187.8 250.61L1190.95 255.86L1187.8 261.11L1184.65 255.86ZM1209.4 328.92L1212.55 334.17L1209.4 339.42L1206.25 334.17ZM1231.01 320.31L1234.16 325.56L1231.01 330.81L1227.86 325.56ZM1285.01 277.47L1288.16 282.72L1285.01 287.97L1281.86 282.72ZM1285.01 307.9L1288.16 313.15L1285.01 318.4L1281.86 313.15ZM1295.81 334.96L1298.96 340.21L1295.81 345.46L1292.66 340.21ZM1360.62 251.58L1363.77 256.83L1360.62 262.08L1357.47 256.83ZM1371.42 305.85L1374.57 311.1L1371.42 316.35L1368.27 311.1ZM1382.22 275.83L1385.37 281.08L1382.22 286.33L1379.07 281.08ZM1393.02 295.69L1396.17 300.94L1393.02 306.19L1389.87 300.94ZM1403.82 255.06L1406.97 260.31L1403.82 265.56L1400.67 260.31ZM1414.62 255.06L1417.77 260.31L1414.62 265.56L1411.47 260.31ZM1425.42 314.09L1428.57 319.34L1425.42 324.59L1422.27 319.34ZM1457.83 302.1L1460.98 307.35L1457.83 312.6L1454.68 307.35ZM1522.63 332.81L1525.78 338.06L1522.63 343.31L1519.48 338.06ZM1609.04 325.59L1612.19 330.84L1609.04 336.09L1605.89 330.84ZM1619.84 305.77L1622.99 311.02L1619.84 316.27L1616.69 311.02ZM1652.24 297.99L1655.39 303.24L1652.24 308.49L1649.09 303.24ZM1684.65 295.5L1687.8 300.75L1684.65 306L1681.5 300.75ZM1695.45 302.35L1698.6 307.6L1695.45 312.85L1692.3 307.6ZM1706.25 304.92L1709.4 310.17L1706.25 315.42L1703.1 310.17ZM1717.05 337.11L1720.2 342.36L1717.05 347.61L1713.9 342.36ZM1727.85 312.99L1731 318.24L1727.85 323.49L1724.7 318.24ZM1738.65 250.61L1741.8 255.86L1738.65 261.11L1735.5 255.86ZM1738.65 527.26L1741.8 532.51L1738.65 537.76L1735.5 532.51ZM1749.45 229.81L1752.6 235.06L1749.45 240.31L1746.3 235.06ZM1749.45 365.96L1752.6 371.21L1749.45 376.46L1746.3 371.21ZM1749.45 509.86L1752.6 515.11L1749.45 520.36L1746.3 515.11ZM1760.25 191.23L1763.4 196.48L1760.25 201.73L1757.1 196.48ZM1771.06 205.1L1774.21 210.35L1771.06 215.6L1767.9 210.35ZM1781.86 252.59L1785.01 257.84L1781.86 263.09L1778.71 257.84ZM1792.66 280.7L1795.81 285.95L1792.66 291.2L1789.51 285.95ZM1792.66 411.17L1795.81 416.42L1792.66 421.67L1789.51 416.42ZM1792.66 484.93L1795.81 490.18L1792.66 495.43L1789.51 490.18ZM1792.66 523.19L1795.81 528.44L1792.66 533.69L1789.51 528.44ZM1803.46 308.83L1806.61 314.08L1803.46 319.33L1800.31 314.08ZM1803.46 393.95L1806.61 399.2L1803.46 404.45L1800.31 399.2ZM1803.46 524L1806.61 529.25L1803.46 534.5L1800.31 529.25ZM1814.26 243.68L1817.41 248.93L1814.26 254.18L1811.11 248.93ZM1814.26 359.94L1817.41 365.19L1814.26 370.44L1811.11 365.19ZM1825.06 241.7L1828.21 246.95L1825.06 252.2L1821.91 246.95ZM1835.86 331.95L1839.01 337.2L1835.86 342.45L1832.71 337.2ZM1846.66 325.35L1849.81 330.6L1846.66 335.85L1843.51 330.6ZM1846.66 340.98L1849.81 346.23L1846.66 351.48L1843.51 346.23ZM1868.26 255.55L1871.41 260.8L1868.26 266.05L1865.11 260.8ZM1868.26 368.97L1871.41 374.22L1868.26 379.47L1865.11 374.22ZM1879.07 258.02L1882.22 263.27L1879.07 268.52L1875.91 263.27ZM1889.87 315.02L1893.02 320.27L1889.87 325.52L1886.72 320.27ZM1889.87 354.75L1893.02 360L1889.87 365.25L1886.72 360ZM1889.87 362.09L1893.02 367.34L1889.87 372.59L1886.72 367.34ZM1900.67 267.9L1903.82 273.15L1900.67 278.4L1897.52 273.15ZM1911.47 301.22L1914.62 306.47L1911.47 311.72L1908.32 306.47ZM1922.27 280.04L1925.42 285.29L1922.27 290.54L1919.12 285.29ZM1933.07 327.79L1936.22 333.04L1933.07 338.29L1929.92 333.04ZM1933.07 356.91L1936.22 362.16L1933.07 367.41L1929.92 362.16ZM1933.07 374.13L1936.22 379.38L1933.07 384.63L1929.92 379.38ZM1943.87 303.28L1947.02 308.53L1943.87 313.78L1940.72 308.53ZM1943.87 325.84L1947.02 331.09L1943.87 336.34L1940.72 331.09ZM1954.67 257.04L1957.82 262.29L1954.67 267.54L1951.52 262.29ZM1954.67 341.84L1957.82 347.09L1954.67 352.34L1951.52 347.09ZM1965.47 318.01L1968.62 323.26L1965.47 328.51L1962.32 323.26ZM1965.47 340.12L1968.62 345.37L1965.47 350.62L1962.32 345.37ZM1965.47 374.13L1968.62 379.38L1965.47 384.63L1962.32 379.38ZM1997.88 316.42L2001.03 321.67L1997.88 326.92L1994.73 321.67ZM1997.88 337.11L2001.03 342.36L1997.88 347.61L1994.73 342.36ZM2008.68 280.7L2011.83 285.95L2008.68 291.2L2005.53 285.95ZM2008.68 342.28L2011.83 347.53L2008.68 352.78L2005.53 347.53ZM2019.48 355.19L2022.63 360.44L2019.48 365.69L2016.33 360.44ZM2030.28 307.19L2033.43 312.44L2030.28 317.69L2027.13 312.44ZM2030.28 318.25L2033.43 323.5L2030.28 328.75L2027.13 323.5ZM2030.28 327.21L2033.43 332.46L2030.28 337.71L2027.13 332.46ZM2041.08 311.77L2044.23 317.02L2041.08 322.27L2037.93 317.02ZM2051.88 217.95L2055.03 223.2L2051.88 228.45L2048.73 223.2ZM2062.68 263.96L2065.83 269.21L2062.68 274.46L2059.53 269.21ZM2073.48 236.73L2076.63 241.98L2073.48 247.23L2070.33 241.98ZM2073.48 286.69L2076.63 291.94L2073.48 297.19L2070.33 291.94ZM2084.28 316.17L2087.43 321.42L2084.28 326.67L2081.13 321.42ZM2084.28 327.21L2087.43 332.46L2084.28 337.71L2081.13 332.46ZM2095.09 303.82L2098.24 309.07L2095.09 314.32L2091.93 309.07ZM2095.09 313.68L2098.24 318.93L2095.09 324.18L2091.93 318.93ZM2116.69 281.19L2119.84 286.44L2116.69 291.69L2113.54 286.44ZM2116.69 293.84L2119.84 299.09L2116.69 304.34L2113.54 299.09ZM2127.49 249.6L2130.64 254.85L2127.49 260.1L2124.34 254.85ZM2149.09 291.1L2152.24 296.35L2149.09 301.6L2145.94 296.35ZM2159.89 295.01L2163.04 300.26L2159.89 305.51L2156.74 300.26ZM2181.49 277.96L2184.64 283.21L2181.49 288.46L2178.34 283.21ZM2181.49 309.96L2184.64 315.21L2181.49 320.46L2178.34 315.21ZM2192.29 251.58L2195.44 256.83L2192.29 262.08L2189.14 256.83ZM2192.29 290.17L2195.44 295.42L2192.29 300.67L2189.14 295.42ZM2203.1 266.92L2206.25 272.17L2203.1 277.42L2199.95 272.17ZM2203.1 292.03L2206.25 297.28L2203.1 302.53L2199.95 297.28ZM2213.9 270.37L2217.05 275.62L2213.9 280.87L2210.75 275.62ZM2213.9 279.79L2217.05 285.04L2213.9 290.29L2210.75 285.04ZM2213.9 485.15L2217.05 490.4L2213.9 495.65L2210.75 490.4ZM2224.7 247.13L2227.85 252.38L2224.7 257.63L2221.55 252.38ZM2224.7 544.31L2227.85 549.56L2224.7 554.81L2221.55 549.56ZM2235.5 190.25L2238.65 195.5L2235.5 200.75L2232.35 195.5ZM2246.3 235.27L2249.45 240.52L2246.3 245.77L2243.15 240.52ZM2257.1 250.61L2260.25 255.86L2257.1 261.11L2253.95 255.86ZM2289.5 304.7L2292.65 309.95L2289.5 315.2L2286.35 309.95ZM2289.5 315.02L2292.65 320.27L2289.5 325.52L2286.35 320.27ZM2321.91 288.21L2325.06 293.46L2321.91 298.71L2318.76 293.46ZM2321.91 293.84L2325.06 299.09L2321.91 304.34L2318.76 299.09ZM2408.31 264.94L2411.46 270.19L2408.31 275.44L2405.16 270.19ZM2429.92 252.1L2433.07 257.35L2429.92 262.6L2426.77 257.35ZM2429.92 289.68L2433.07 294.93L2429.92 300.18L2426.77 294.93ZM2429.92 302.06L2433.07 307.31L2429.92 312.56L2426.77 307.31ZM2440.72 254.57L2443.87 259.82L2440.72 265.07L2437.57 259.82ZM2440.72 278.81L2443.87 284.06L2440.72 289.31L2437.57 284.06ZM2462.32 193.21L2465.47 198.46L2462.32 203.71L2459.17 198.46ZM2462.32 200.62L2465.47 205.87L2462.32 211.12L2459.17 205.87ZM2473.12 205.08L2476.27 210.33L2473.12 215.58L2469.97 210.33ZM2473.12 213L2476.27 218.25L2473.12 223.5L2469.97 218.25ZM2473.12 219.93L2476.27 225.18L2473.12 230.43L2469.97 225.18ZM2483.92 180.86L2487.07 186.11L2483.92 191.36L2480.77 186.11ZM2483.92 202.12L2487.07 207.37L2483.92 212.62L2480.77 207.37ZM2483.92 277.47L2487.07 282.72L2483.92 287.97L2480.77 282.72ZM2494.72 215.96L2497.87 221.21L2494.72 226.46L2491.57 221.21ZM2505.52 202.12L2508.67 207.37L2505.52 212.62L2502.37 207.37ZM2505.52 247.13L2508.67 252.38L2505.52 257.63L2502.37 252.38ZM2516.32 204.1L2519.47 209.35L2516.32 214.6L2513.17 209.35ZM2527.12 248.11L2530.28 253.36L2527.12 258.61L2523.97 253.36ZM2548.73 240.7L2551.88 245.95L2548.73 251.2L2545.58 245.95ZM2581.13 221.91L2584.28 227.16L2581.13 232.41L2577.98 227.16ZM2581.13 250.12L2584.28 255.37L2581.13 260.62L2577.98 255.37ZM2591.93 230.3L2595.08 235.55L2591.93 240.8L2588.78 235.55ZM2591.93 260L2595.08 265.25L2591.93 270.5L2588.78 265.25ZM2591.93 270.89L2595.08 276.14L2591.93 281.39L2588.78 276.14ZM2602.73 209.53L2605.88 214.78L2602.73 220.03L2599.58 214.78ZM2602.73 218.92L2605.88 224.17L2602.73 229.42L2599.58 224.17ZM2699.94 254.57L2703.09 259.82L2699.94 265.07L2696.79 259.82ZM2883.56 138.8L2886.71 144.05L2883.56 149.3L2880.41 144.05ZM2894.36 167.99L2897.51 173.24L2894.36 178.49L2891.21 173.24ZM2915.96 269.88L2919.11 275.13L2915.96 280.38L2912.81 275.13ZM2926.76 278.86L2929.91 284.11L2926.76 289.36L2923.61 284.11ZM2926.76 507.98L2929.91 513.23L2926.76 518.48L2923.61 513.23ZM2926.76 518.06L2929.91 523.31L2926.76 528.56L2923.61 523.31ZM2937.56 245.64L2940.71 250.89L2937.56 256.14L2934.41 250.89ZM2991.57 286.06L2994.72 291.31L2991.57 296.56L2988.42 291.31ZM3185.99 273.8L3189.14 279.05L3185.99 284.3L3182.84 279.05ZM3196.79 294.77L3199.94 300.02L3196.79 305.27L3193.64 300.02Z" fill="#454545" stroke="#454545" stroke-width="0.9" stroke-linejoin="miter"/>
<polyline points="96.9,318.61 107.7,330.35 118.5,360.44 129.3,347.48 140.1,353.96 150.91,363.87 161.71,358.73 172.51,343.2 183.31,323.01 194.11,317.87 204.91,341.12 215.71,361.67 226.51,334.61 237.31,303.93 248.11,301.73 258.92,266.74 269.72,282.06 280.52,245.95 291.32,274.16 302.12,264.3 312.92,205.82 323.72,264.79 334.52,199.95 345.32,228.09 356.12,200.44 366.92,264.79 377.73,264.3 388.53,270.66 399.33,180.63 410.13,255.86 420.93,222.22 431.73,195.99 442.53,205.87 453.33,233.08 464.13,215.78 474.94,234.57 485.74,275.13 496.54,298.89 507.34,299.87 518.14,269.7 528.94,309.75 539.74,281.08 550.54,302.83 561.34,264.76 572.14,277.61 582.95,289.98 593.75,267.72 604.55,230.12 615.35,261.78 626.15,249.91 636.95,299.87 647.75,278.61 658.55,278.61 669.35,257.84 680.15,321.13 690.96,243.48 701.76,289.98 712.56,231.61 723.36,255.86 734.16,274.16 744.96,269.7 755.76,221.73 766.56,277.61 777.36,240.52 788.16,310.54 798.97,255.86 809.77,278.61 820.57,284.55 831.37,335.91 842.17,296.42 852.97,267.72 863.77,305.52 874.57,254.36 885.37,201.45 896.17,233.08 906.98,255.86 917.78,223.68 928.58,271.68 939.38,275.62 950.18,199.46 960.98,271.68 971.78,318.66 982.58,237.53 993.38,240.52 1004.18,293.46 1014.99,312.25 1025.79,328.59 1036.59,370.35 1047.39,304.42 1058.19,330.84 1068.99,330.6 1079.79,232.1 1090.59,331.6 1101.39,385.42 1112.19,380.26 1123,371.65 1133.8,379.38 1144.6,382.41 1155.4,385.42 1166.2,384.57 1177,414.27 1187.8,422.02 1198.6,428.48 1209.4,437.09 1220.2,402.21 1231.01,411.26 1241.81,430.63 1252.61,462.49 1263.41,452.16 1274.21,465.08 1285.01,485.31 1295.81,463.34 1306.61,456.47 1317.41,452.16 1328.21,434.5 1339.02,454.32 1349.82,489.18 1360.62,467.23 1371.42,486.17 1382.22,455.17 1393.02,462.93 1403.82,491.33 1414.62,471.1 1425.42,479.29 1436.22,440.54 1447.03,479.29 1457.83,500.38 1468.63,486.17 1479.43,482.3 1490.23,478.41 1501.03,509.44 1511.83,498.67 1522.63,498.23 1533.43,477.14 1544.23,511.15 1555.04,461.19 1565.84,489.18 1576.64,483.6 1587.44,482.3 1598.24,496.52 1609.04,487.47 1619.84,473.25 1630.64,498.23 1641.44,480.57 1652.24,469.39 1663.05,489.62 1673.85,477.14 1684.65,454.32 1695.45,434.08 1706.25,439.25 1717.05,469.39 1727.85,437.51 1738.65,435.36 1749.45,452.16 1760.25,433.2 1771.06,440.1 1781.86,451.31 1792.66,427.18 1803.46,426.33 1814.26,418.57 1825.06,416.86 1835.86,454.32 1846.66,425.47 1857.46,419.87 1868.26,444.41 1879.07,447 1889.87,422.02 1900.67,432.35 1911.47,454.32 1922.27,453.46 1933.07,441.4 1943.87,470.24 1954.67,483.16 1965.47,469.39 1976.27,395.33 1987.08,431.49 1997.88,459.04 2008.68,417.72 2019.48,387.58 2030.28,444.41 2041.08,465.08 2051.88,437.09 2062.68,427.62 2073.48,426.33 2084.28,439.25 2095.09,418.13 2105.89,413.41 2116.69,432.35 2127.49,440.1 2138.29,440.1 2149.09,431.49 2159.89,430.19 2170.69,443.55 2181.49,400.49 2192.29,415.12 2203.1,455.17 2213.9,443.11 2224.7,401.35 2235.5,419.43 2246.3,381.53 2257.1,402.21 2267.9,398.34 2278.7,383.27 2289.5,408.25 2300.3,409.1 2311.11,383.27 2321.91,393.59 2332.71,393.59 2343.51,392.3 2354.31,412.11 2365.11,372.51 2375.91,360.44 2386.71,341.51 2397.51,333.31 2408.31,375.51 2419.12,360.44 2429.92,368.2 2440.72,351.39 2451.52,382.41 2462.32,302.31 2473.12,334.61 2483.92,312.74 2494.72,344.52 2505.52,326.27 2516.32,357.43 2527.12,324.9 2537.93,322.38 2548.73,399.64 2559.53,361.74 2570.33,310.39 2581.13,327.42 2591.93,316.41 2602.73,306.47 2613.53,303.68 2624.33,311.81 2635.14,286.19 2645.94,294.29 2656.74,343.22 2667.54,336.32 2678.34,275.13 2689.14,289.98 2699.94,264.27 2710.74,275.13 2721.54,265.74 2732.34,307.35 2743.14,325.58 2753.95,321.42 2764.75,249.91 2775.55,252.87 2786.35,285.53 2797.15,273.15 2807.95,286.44 2818.75,329.62 2829.55,328.15 2840.35,348.38 2851.16,312.25 2861.96,346.23 2872.76,332.46 2883.56,366.46 2894.36,378.11 2905.16,279.59 2915.96,347.53 2926.76,278.61 2937.56,338.47 2948.36,324.9 2959.16,318.46 2969.97,301.85 2980.77,350.54 2991.57,344.52 3002.37,306.96 3013.17,294.05 3023.97,340.21 3034.77,296.79 3045.57,285.7 3056.37,300.26 3067.18,294.05 3077.98,266.74 3088.78,294.98 3099.58,299.09" fill="none" stroke="#0000ff" stroke-width="2.08" stroke-linejoin="round" stroke-linecap="round"/>
<line x1="207" x2="207" y1="53.8" y2="591.2" stroke="#4c72b0" stroke-width="2.08"/>
<line x1="1182" x2="1182" y1="53.8" y2="591.2" stroke="#4c72b0" stroke-width="2.08"/>
<line x1="2239" x2="2239" y1="53.8" y2="591.2" stroke="#4c72b0" stroke-width="2.08"/>
<line x1="2967" x2="2967" y1="53.8" y2="591.2" stroke="#4c72b0" stroke-width="2.08"/>
<line x1="3115" x2="3115" y1="53.8" y2="591.2" stroke="#4c72b0" stroke-width="2.08"/>
</g>
<g style="opacity:0.999">
<text x="210.72" y="106.3" font-size="17.66" textLength="26.78" lengthAdjust="spacingAndGlyphs">DM</text>
<text x="210.21" y="127.3" font-size="17.66" textLength="25.88" lengthAdjust="spacingAndGlyphs">Set</text>
<text x="1185.93" y="106.3" font-size="17.66" textLength="23.77" lengthAdjust="spacingAndGlyphs">PM</text>
<text x="1185.31" y="127.3" font-size="17.66" textLength="25.88" lengthAdjust="spacingAndGlyphs">Set</text>
<text x="2241.3" y="106.3" font-size="17.66" textLength="18.06" lengthAdjust="spacingAndGlyphs">JN</text>
<text x="2242.11" y="127.3" font-size="17.66" textLength="25.88" lengthAdjust="spacingAndGlyphs">Set</text>
<text x="2970.72" y="106.3" font-size="17.66" textLength="21.4" lengthAdjust="spacingAndGlyphs">FN</text>
<text x="2970.11" y="127.3" font-size="17.66" textLength="25.88" lengthAdjust="spacingAndGlyphs">Set</text>
<text x="3118.7" y="106.3" font-size="17.66" textLength="24.31" lengthAdjust="spacingAndGlyphs">EM</text>
<text x="3118.11" y="127.3" font-size="17.66" textLength="25.88" lengthAdjust="spacingAndGlyphs">Set</text>
<text x="1384.1" y="24" font-size="17.66" textLength="525.74" lengthAdjust="spacingAndGlyphs">Comparison of Spot Counts on 2025.10.17 to Previous 21 Days</text>
<text x="1628.87" y="44.3" font-size="17.66" textLength="36.73" lengthAdjust="spacingAndGlyphs">30m</text>
<text x="73.96" y="579" font-size="16.19" textLength="8.96" lengthAdjust="spacingAndGlyphs">0</text>
<text x="44.67" y="518" font-size="16.19" textLength="38.31" lengthAdjust="spacingAndGlyphs">2500</text>
<text x="44.91" y="457" font-size="16.19" textLength="38.07" lengthAdjust="spacingAndGlyphs">5000</text>
<text x="44.79" y="395" font-size="16.19" textLength="38.18" lengthAdjust="spacingAndGlyphs">7500</text>
<text x="35.06" y="334" font-size="16.19" textLength="47.89" lengthAdjust="spacingAndGlyphs">10000</text>
<text x="35.06" y="273" font-size="16.19" textLength="47.89" lengthAdjust="spacingAndGlyphs">12500</text>
<text x="35.06" y="212" font-size="16.19" textLength="47.89" lengthAdjust="spacingAndGlyphs">15000</text>
<text x="35.06" y="151" font-size="16.19" textLength="47.89" lengthAdjust="spacingAndGlyphs">17500</text>
<text x="34.94" y="90" font-size="16.19" textLength="48.01" lengthAdjust="spacingAndGlyphs">20000</text>
<text x="-54.17" y="0" font-size="16.19" textLength="54.03" lengthAdjust="spacingAndGlyphs" transform="translate(101.4 607.2) rotate(-90)">00:00Z</text>
<text x="-54.17" y="0" font-size="16.19" textLength="54.03" lengthAdjust="spacingAndGlyphs" transform="translate(166.21 607.2) rotate(-90)">00:30Z</text>
<text x="-54.17" y="0" font-size="16.19" textLength="54.03" lengthAdjust="spacingAndGlyphs" transform="translate(231.01 607.2) rotate(-90)">01:00Z</text>
<text x="-54.17" y="0" font-size="16.19" textLength="54.03" lengthAdjust="spacingAndGlyphs" transform="translate(295.82 607.2) rotate(-90)">01:30Z</text>
<text x="-54.17" y="0" font-size="16.19" textLength="54.03" lengthAdjust="spacingAndGlyphs" transform="translate(360.62 607.2) rotate(-90)">02:00Z</text>
<text x="-54.17" y="0" font-size="16.19" textLength="54.03" lengthAdjust="spacingAndGlyphs" transform="translate(425.43 607.2) rotate(-90)">02:30Z</text>
<text x="-54.17" y="0" font-size="16.19" textLength="54.03" lengthAdjust="spacingAndGlyphs" transform="translate(490.24 607.2) rotate(-90)">03:00Z</text>
<text x="-54.17" y="0" font-size="16.19" textLength="54.03" lengthAdjust="spacingAndGlyphs" transform="translate(555.04 607.2) rotate(-90)">03:30Z</text>
<text x="-54.17" y="0" font-size="16.19" textLength="54.03" lengthAdjust="spacingAndGlyphs" transform="translate(619.85 607.2) rotate(-90)">04:00Z</text>
<text x="-54.17" y="0" font-size="16.19" textLength="54.03" lengthAdjust="spacingAndGlyphs" transform="translate(684.65 607.2) rotate(-90)">04:30Z</text>
<text x="-54.17" y="0" font-size="16.19" textLength="54.03" lengthAdjust="spacingAndGlyphs" transform="translate(749.46 607.2) rotate(-90)">05:00Z</text>
<text x="-54.17" y="0" font-size="16.19" textLength="54.03" lengthAdjust="spacingAndGlyphs" transform="translate(814.27 607.2) rotate(-90)">05:30Z</text>
<text x="-54.17" y="0" font-size="16.19" textLength="54.03" lengthAdjust="spacingAndGlyphs" transform="translate(879.07 607.2) rotate(-90)">06:00Z</text>
<text x="-54.17" y="0" font-size="16.19" textLength="54.03" lengthAdjust="spacingAndGlyphs" transform="translate(943.88 607.2) rotate(-90)">06:30Z</text>
<text x="-54.17" y="0" font-size="16.19" textLength="54.03" lengthAdjust="spacingAndGlyphs" transform="translate(1008.68 607.2) rotate(-90)">07:00Z</text>
<text x="-54.17" y="0" font-size="16.19" textLength="54.03" lengthAdjust="spacingAndGlyphs" transform="translate(1073.49 607.2) rotate(-90)">07:30Z</text>
<text x="-54.17" y="0" font-size="16.19" textLength="54.03" lengthAdjust="spacingAndGlyphs" transform="translate(1138.3 607.2) rotate(-90)">08:00Z</text>
<text x="-54.17" y="0" font-size="16.19" textLength="54.03" lengthAdjust="spacingAndGlyphs" transform="translate(1203.1 607.2) rotate(-90)">08:30Z</text>
<text x="-54.17" y="0" font-size="16.19" textLength="54.03" lengthAdjust="spacingAndGlyphs" transform="translate(1267.91 607.2) rotate(-90)">09:00Z</text>
<text x="-54.17" y="0" font-size="16.19" textLength="54.03" lengthAdjust="spacingAndGlyphs" transform="translate(1332.71 607.2) rotate(-90)">09:30Z</text>
<text x="-54.14" y="0" font-size="16.19" textLength="54" lengthAdjust="spacingAndGlyphs" transform="translate(1397.52 607.2) rotate(-90)">10:00Z</text>
<text x="-54.14" y="0" font-size="16.19" textLength="54" lengthAdjust="spacingAndGlyphs" transform="translate(1462.33 607.2) rotate(-90)">10:30Z</text>
<text x="-54.17" y="0" font-size="16.19" textLength="54.04" lengthAdjust="spacingAndGlyphs" transform="translate(1527.13 607.2) rotate(-90)">11:00Z</text>
<text x="-54.17" y="0" font-size="16.19" textLength="54.04" lengthAdjust="spacingAndGlyphs" transform="translate(1591.94 607.2) rotate(-90)">11:30Z</text>
<text x="-54.14" y="0" font-size="16.19" textLength="54" lengthAdjust="spacingAndGlyphs" transform="translate(1656.74 607.2) rotate(-90)">12:00Z</text>
<text x="-54.14" y="0" font-size="16.19" textLength="54" lengthAdjust="spacingAndGlyphs" transform="translate(1721.55 607.2) rotate(-90)">12:30Z</text>
<text x="-54.14" y="0" font-size="16.19" textLength="54" lengthAdjust="spacingAndGlyphs" transform="translate(1786.36 607.2) rotate(-90)">13:00Z</text>
<text x="-54.14" y="0" font-size="16.19" textLength="54" lengthAdjust="spacingAndGlyphs" transform="translate(1851.16 607.2) rotate(-90)">13:30Z</text>
<text x="-54.14" y="0" font-size="16.19" textLength="54" lengthAdjust="spacingAndGlyphs" transform="translate(1915.97 607.2) rotate(-90)">14:00Z</text>
<text x="-54.14" y="0" font-size="16.19" textLength="54" lengthAdjust="spacingAndGlyphs" transform="translate(1980.77 607.2) rotate(-90)">14:30Z</text>
<text x="-54.14" y="0" font-size="16.19" textLength="54" lengthAdjust="spacingAndGlyphs" transform="translate(2045.58 607.2) rotate(-90)">15:00Z</text>
<text x="-54.14" y="0" font-size="16.19" textLength="54" lengthAdjust="spacingAndGlyphs" transform="translate(2110.39 607.2) rotate(-90)">15:30Z</text>
<text x="-54.14" y="0" font-size="16.19" textLength="54" lengthAdjust="spacingAndGlyphs" transform="translate(2175.19 607.2) rotate(-90)">16:00Z</text>
<text x="-54.14" y="0" font-size="16.19" textLength="54" lengthAdjust="spacingAndGlyphs" transform="translate(2240 607.2) rotate(-90)">16:30Z</text>
<text x="-54.14" y="0" font-size="16.19" textLength="54" lengthAdjust="spacingAndGlyphs" transform="translate(2304.8 607.2) rotate(-90)">17:00Z</text>
<text x="-54.14" y="0" font-size="16.19" textLength="54" lengthAdjust="spacingAndGlyphs" transform="translate(2369.61 607.2) rotate(-90)">17:30Z</text>
<text x="-54.14" y="0" font-size="16.19" textLength="54" lengthAdjust="spacingAndGlyphs" transform="translate(2434.42 607.2) rotate(-90)">18:00Z</text>
<text x="-54.14" y="0" font-size="16.19" textLength="54" lengthAdjust="spacingAndGlyphs" transform="translate(2499.22 607.2) rotate(-90)">18:30Z</text>
<text x="-54.14" y="0" font-size="16.19" textLength="54" lengthAdjust="spacingAndGlyphs" transform="translate(2564.03 607.2) rotate(-90)">19:00Z</text>
<text x="-54.14" y="0" font-size="16.19" textLength="54" lengthAdjust="spacingAndGlyphs" transform="translate(2628.83 607.2) rotate(-90)">19:30Z</text>
<text x="-54.26" y="0" font-size="16.19" textLength="54.11" lengthAdjust="spacingAndGlyphs" transform="translate(2693.64 607.2) rotate(-90)">20:00Z</text>
<text x="-54.26" y="0" font-size="16.19" textLength="54.11" lengthAdjust="spacingAndGlyphs" transform="translate(2758.45 607.2) rotate(-90)">20:30Z</text>
<text x="-54.26" y="0" font-size="16.19" textLength="54.11" lengthAdjust="spacingAndGlyphs" transform="translate(2823.25 607.2) rotate(-90)">21:00Z</text>
<text x="-54.26" y="0" font-size="16.19" textLength="54.11" lengthAdjust="spacingAndGlyphs" transform="translate(2888.06 607.2) rotate(-90)">21:30Z</text>
<text x="-54.26" y="0" font-size="16.19" textLength="54.11" lengthAdjust="spacingAndGlyphs" transform="translate(2952.86 607.2) rotate(-90)">22:00Z</text>
<text x="-54.26" y="0" font-size="16.19" textLength="54.11" lengthAdjust="spacingAndGlyphs" transform="translate(3017.67 607.2) rotate(-90)">22:30Z</text>
<text x="-54.26" y="0" font-size="16.19" textLength="54.11" lengthAdjust="spacingAndGlyphs" transform="translate(3082.48 607.2) rotate(-90)">23:00Z</text>
<text x="-54.26" y="0" font-size="16.19" textLength="54.11" lengthAdjust="spacingAndGlyphs" transform="translate(3147.28 607.2) rotate(-90)">23:30Z</text>
<text x="1583.76" y="681" font-size="22.07" textLength="125.44" lengthAdjust="spacingAndGlyphs">Time of Day</text>
<text x="-57.6" y="0" font-size="22.07" textLength="115.17" lengthAdjust="spacingAndGlyphs" transform="translate(24.5 322.5) rotate(-90)">Spot Count</text>
</g>
</svg></body></html>
